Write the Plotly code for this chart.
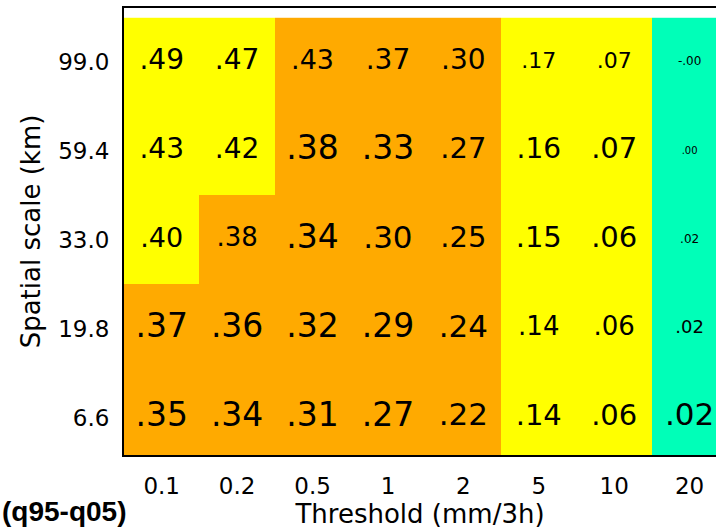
import plotly.graph_objects as go

# ---- data ----
thresholds = ["0.1", "0.2", "0.5", "1", "2", "5", "10", "20"]
scales = ["6.6", "19.8", "33.0", "59.4", "99.0"]

# score per (scale, threshold); rows bottom -> top
scores_6_6 = [0.35, 0.34, 0.31, 0.27, 0.22, 0.14, 0.06, 0.02]
scores_19_8 = [0.37, 0.36, 0.32, 0.29, 0.24, 0.14, 0.06, 0.02]
scores_33_0 = [0.40, 0.38, 0.34, 0.30, 0.25, 0.15, 0.06, 0.02]
scores_59_4 = [0.43, 0.42, 0.38, 0.33, 0.27, 0.16, 0.07, 0.00]
scores_99_0 = [0.49, 0.47, 0.43, 0.37, 0.30, 0.17, 0.07, -0.001]

# colour class per cell: 0 = orange, 1 = yellow, 2 = green
class_6_6 = [0, 0, 0, 0, 0, 1, 1, 2]
class_19_8 = [0, 0, 0, 0, 0, 1, 1, 2]
class_33_0 = [1, 0, 0, 0, 0, 1, 1, 2]
class_59_4 = [1, 1, 0, 0, 0, 1, 1, 2]
class_99_0 = [1, 1, 0, 0, 0, 1, 1, 2]

scores = [scores_6_6, scores_19_8, scores_33_0, scores_59_4, scores_99_0]
classes = [class_6_6, class_19_8, class_33_0, class_59_4, class_99_0]

# ---- style ----
label_font_sizes = [
    [33, 33, 33, 33, 31, 29, 29, 31],
    [33, 33, 33, 33, 31, 26, 26, 18],
    [27, 26, 33, 31, 29, 29, 29, 12],
    [28, 28, 33, 33, 29, 28, 29, 10],
    [28, 28, 27, 28, 28, 22, 22, 12],
]
ORANGE = "#FFAA00"
YELLOW = "#FFFF00"
GREEN = "#00FFB8"


def fmt(v):
    s = f"{v:.2f}"
    return s.replace("0.", ".", 1)


fig = go.Figure()
fig.add_trace(go.Heatmap(
    x=thresholds, y=scales, z=classes,
    zmin=0, zmax=2,
    colorscale=[[0, ORANGE], [0.3333, ORANGE], [0.3334, YELLOW],
                [0.6666, YELLOW], [0.6667, GREEN], [1, GREEN]],
    showscale=False, hoverinfo="skip",
))

tx, ty, tt, ts = [], [], [], []
for r, sc in enumerate(scales):
    for c, th in enumerate(thresholds):
        tx.append(th)
        ty.append(sc)
        tt.append(fmt(scores[r][c]))
        ts.append(label_font_sizes[r][c])

fig.add_trace(go.Scatter(
    x=tx, y=ty, text=tt, mode="text",
    textposition="middle center",
    textfont=dict(family="DejaVu Sans", size=ts, color="black"),
    hoverinfo="skip", showlegend=False,
))

fig.add_annotation(
    text="<b>(q95-q05)</b>", xref="paper", yref="paper",
    x=-0.2095, y=-0.1655, xanchor="left", yanchor="bottom", showarrow=False,
    font=dict(family="Liberation Sans", size=28, color="black"),
)

fig.update_layout(
    width=716, height=529,
    margin=dict(l=124, r=0, t=8, b=74),
    paper_bgcolor="white", plot_bgcolor="white",
    font=dict(family="DejaVu Sans", color="black"),
    showlegend=False,
)
fig.update_xaxes(
    type="category", range=[-0.5, 7.35],
    showline=True, linecolor="black", linewidth=2, mirror=True,
    ticks="", showgrid=False, zeroline=False,
    tickfont=dict(size=23), ticklabelstandoff=9,
    title=dict(text="Threshold (mm/3h)", font=dict(size=26), standoff=2),
)
fig.update_yaxes(
    type="category", range=[-0.42, 4.61],
    showline=True, linecolor="black", linewidth=2, mirror=False,
    ticks="", showgrid=False, zeroline=False,
    tickfont=dict(size=23), ticklabelstandoff=8,
    title=dict(text="Spatial scale (km)", font=dict(size=26), standoff=10),
)

fig.write_html("out.html")
